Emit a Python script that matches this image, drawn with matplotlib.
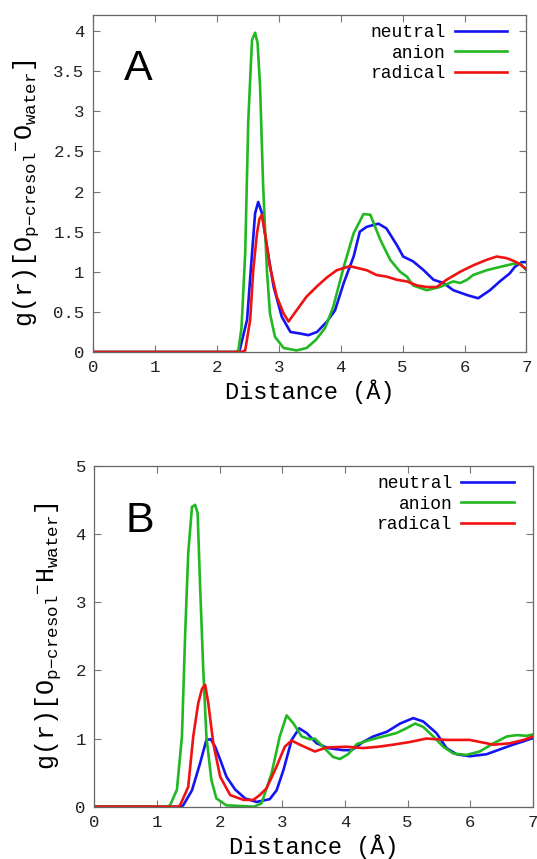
import matplotlib
matplotlib.use("Agg")
import matplotlib.pyplot as plt
from matplotlib.ticker import FormatStrFormatter

plt.rcParams['mathtext.fontset'] = 'custom'
plt.rcParams['mathtext.rm'] = 'Liberation Mono'
plt.rcParams['mathtext.it'] = 'Liberation Mono'
plt.rcParams['mathtext.tt'] = 'Liberation Mono'

MONO = 'Liberation Mono'

# ---------------- Panel A : O(p-cresol) - O(water) ----------------
a_neutral_x = [0, 2.30, 2.37, 2.49, 2.57, 2.62, 2.67, 2.73, 2.81, 2.92, 3.05, 3.19, 3.35, 3.48,
               3.62, 3.78, 3.91, 4.05, 4.21, 4.31, 4.42, 4.61, 4.74, 4.91, 5.01, 5.17, 5.34,
               5.50, 5.66, 5.82, 6.04, 6.22, 6.41, 6.57, 6.73, 6.81, 6.92, 7.0]
a_neutral_y = [0, 0, 0.02, 0.40, 1.23, 1.73, 1.87, 1.73, 1.31, 0.81, 0.44, 0.25, 0.23, 0.21,
               0.25, 0.38, 0.52, 0.86, 1.19, 1.50, 1.56, 1.60, 1.54, 1.33, 1.19, 1.13, 1.02,
               0.90, 0.86, 0.77, 0.71, 0.67, 0.77, 0.88, 0.98, 1.06, 1.12, 1.12]

a_anion_x = [0, 2.30, 2.35, 2.40, 2.46, 2.51, 2.57, 2.62, 2.66, 2.70, 2.75, 2.81, 2.86, 2.94,
             3.08, 3.29, 3.45, 3.60, 3.75, 3.88, 4.05, 4.21, 4.37, 4.48, 4.64, 4.80, 4.96,
             5.07, 5.17, 5.39, 5.60, 5.82, 5.93, 6.04, 6.14, 6.36, 6.57, 6.79, 6.90, 7.0]
a_anion_y = [0, 0, 0.02, 0.30, 1.23, 2.89, 3.89, 3.98, 3.85, 3.31, 2.06, 1.02, 0.48, 0.19,
             0.05, 0.02, 0.05, 0.15, 0.30, 0.56, 1.06, 1.48, 1.72, 1.71, 1.40, 1.15, 1.00,
             0.94, 0.83, 0.77, 0.81, 0.88, 0.86, 0.90, 0.96, 1.02, 1.06, 1.10, 1.10, 1.02]

a_radical_x = [0, 2.40, 2.46, 2.54, 2.59, 2.65, 2.69, 2.73, 2.78, 2.86, 2.97, 3.08, 3.16, 3.29,
               3.45, 3.62, 3.78, 3.94, 4.15, 4.31, 4.42, 4.58, 4.74, 4.91, 5.07, 5.23, 5.39,
               5.55, 5.71, 5.93, 6.14, 6.36, 6.52, 6.68, 6.81, 6.92, 7.0]
a_radical_y = [0, 0, 0.02, 0.40, 1.02, 1.48, 1.66, 1.71, 1.48, 1.06, 0.69, 0.48, 0.38, 0.52,
               0.69, 0.82, 0.93, 1.02, 1.07, 1.04, 1.02, 0.96, 0.94, 0.90, 0.88, 0.83, 0.81,
               0.81, 0.90, 1.00, 1.08, 1.15, 1.19, 1.17, 1.13, 1.08, 1.03]

# ---------------- Panel B : O(p-cresol) - H(water) ----------------
b_neutral_x = [0, 1.38, 1.42, 1.56, 1.69, 1.79, 1.86, 1.93, 2.01, 2.11, 2.25, 2.41, 2.59, 2.80,
               2.91, 3.02, 3.15, 3.27, 3.39, 3.55, 3.73, 3.97, 4.11, 4.29, 4.45, 4.67, 4.88,
               5.09, 5.25, 5.46, 5.62, 5.78, 5.99, 6.26, 6.53, 6.68, 6.85, 7.0]
b_neutral_y = [0, 0, 0.02, 0.24, 0.64, 0.98, 0.99, 0.88, 0.69, 0.44, 0.25, 0.12, 0.07, 0.11,
               0.24, 0.54, 0.98, 1.15, 1.08, 0.93, 0.86, 0.83, 0.83, 0.95, 1.03, 1.10, 1.22,
               1.30, 1.25, 1.08, 0.86, 0.77, 0.74, 0.77, 0.86, 0.91, 0.96, 1.01]

b_anion_x = [0, 1.15, 1.21, 1.32, 1.40, 1.45, 1.50, 1.56, 1.61, 1.65, 1.69, 1.74, 1.79, 1.87,
             1.95, 2.11, 2.55, 2.67, 2.83, 2.96, 3.07, 3.18, 3.31, 3.44, 3.52, 3.65, 3.81,
             3.92, 4.05, 4.19, 4.40, 4.61, 4.82, 4.98, 5.12, 5.25, 5.41, 5.57, 5.73, 5.94,
             6.15, 6.37, 6.58, 6.74, 6.90, 7.0]
b_anion_y = [0, 0, 0.02, 0.25, 1.03, 2.50, 3.72, 4.40, 4.43, 4.31, 3.23, 2.01, 1.03, 0.39,
             0.12, 0.02, 0.0, 0.05, 0.49, 1.03, 1.34, 1.22, 1.03, 0.99, 1.00, 0.88, 0.73,
             0.70, 0.77, 0.92, 0.98, 1.03, 1.08, 1.15, 1.22, 1.17, 1.03, 0.88, 0.78, 0.76,
             0.81, 0.93, 1.03, 1.05, 1.04, 1.06]

b_radical_x = [0, 1.33, 1.37, 1.50, 1.58, 1.66, 1.72, 1.77, 1.82, 1.90, 2.01, 2.17, 2.38, 2.54,
               2.64, 2.75, 2.91, 3.04, 3.15, 3.28, 3.52, 3.71, 4.03, 4.29, 4.53, 4.77, 5.04,
               5.30, 5.62, 5.99, 6.37, 6.63, 6.85, 7.0]
b_radical_y = [0, 0, 0.02, 0.29, 1.03, 1.52, 1.73, 1.79, 1.52, 0.93, 0.44, 0.17, 0.10, 0.10,
               0.17, 0.27, 0.59, 0.88, 0.97, 0.91, 0.81, 0.87, 0.88, 0.86, 0.88, 0.91, 0.95,
               1.00, 0.98, 0.98, 0.91, 0.93, 0.98, 1.03]

series_labels = ['neutral', 'anion', 'radical']
series_colors = ['#1414f2', '#22b822', '#f01212']
x_ticks = [0, 1, 2, 3, 4, 5, 6, 7]
a_yticks = [0, 0.5, 1, 1.5, 2, 2.5, 3, 3.5, 4]
b_yticks = [0, 1, 2, 3, 4, 5]
xlabel = 'Distance (Å)'
a_ylabel = r'g(r)[O$_{\rm p\!-\!cresol}$$^{-}$O$_{\rm water}$]'
b_ylabel = r'g(r)[O$_{\rm p\!-\!cresol}$$^{-}$H$_{\rm water}$]'

fig = plt.figure(figsize=(5.37, 8.59), dpi=100)
axA = fig.add_axes([0.1728, 0.5902, 0.8076, 0.3923])
axB = fig.add_axes([0.1754, 0.0609, 0.8171, 0.3966])


def style(ax, yticks, ylim, ylabel, panel, label_y):
    ax.set_xlim(0, 7)
    ax.set_ylim(*ylim)
    ax.set_xticks(x_ticks)
    ax.set_yticks(yticks)
    ax.yaxis.set_major_formatter(FormatStrFormatter('%g'))
    ax.tick_params(direction='in', length=5, width=0.8, color='#777777',
                   top=True, right=True, labelsize=12.5, pad=6)
    for lab in ax.get_xticklabels() + ax.get_yticklabels():
        lab.set_fontfamily(MONO)
        lab.set_color('#222222')
    for sp in ax.spines.values():
        sp.set_color('#666666')
        sp.set_linewidth(0.9)
    ax.set_xlabel(xlabel, fontfamily=MONO, fontsize=17, labelpad=3)
    ax.set_ylabel(ylabel, fontfamily=MONO, fontsize=18, labelpad=9)
    ax.yaxis.label.set_y(label_y)
    ax.text(0.105, 0.84, panel, transform=ax.transAxes, fontfamily='Liberation Sans',
            fontsize=31, ha='center', va='center')
    leg = ax.legend(loc='upper right', bbox_to_anchor=(0.977, 1.0), frameon=False,
                    markerfirst=False, prop={'family': MONO, 'size': 13}, handlelength=2.9,
                    labelspacing=0.2, borderaxespad=0.1, handletextpad=0.5)
    for t in leg.get_texts():
        t.set_ha('right')


for ax, data in [(axA, [(a_neutral_x, a_neutral_y), (a_anion_x, a_anion_y), (a_radical_x, a_radical_y)]),
                 (axB, [(b_neutral_x, b_neutral_y), (b_anion_x, b_anion_y), (b_radical_x, b_radical_y)])]:
    for (xs, ys), lab, col in zip(data, series_labels, series_colors):
        ax.plot(xs, ys, color=col, lw=1.9, label=lab)

style(axA, a_yticks, (0, 4.2), a_ylabel, 'A', 0.47)
style(axB, b_yticks, (0, 5), b_ylabel, 'B', 0.5)

fig.savefig('out.png', dpi=100)
